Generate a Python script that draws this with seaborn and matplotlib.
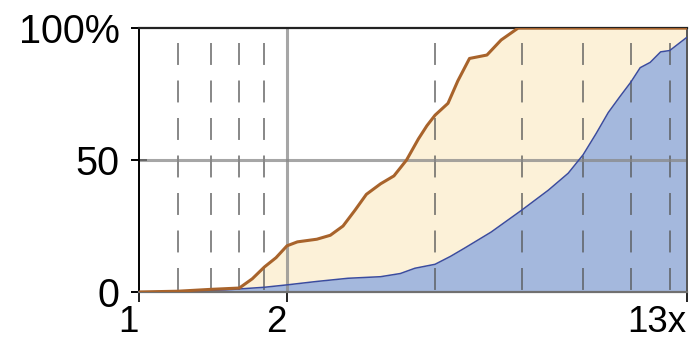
import matplotlib
matplotlib.use("Agg")
import matplotlib.pyplot as plt
import seaborn as sns
import pandas as pd

# Cumulative share (%) of runs at or below each speed-up factor
fast_x = [1.0, 1.2, 1.4, 1.6, 1.7, 1.8, 1.9, 2.0, 2.1, 2.3, 2.45, 2.6, 2.75,
          2.9, 3.1, 3.3, 3.5, 3.7, 3.85, 4.0, 4.25, 4.45, 4.7, 5.1, 5.45, 5.9, 13.0]
fast_y = [0, 0.3, 1.0, 1.5, 5, 9.5, 13, 17.5, 19, 20, 21.5, 25, 31,
          37, 41, 44, 50, 58, 63, 67, 71.5, 80, 88.5, 89.8, 95.5, 100, 100]

slow_x = [1.0, 1.2, 1.5, 1.8, 2.0, 2.3, 2.66, 3.1, 3.4, 3.64, 4.0, 4.3, 4.6,
          5.2, 6.0, 6.8, 7.46, 8.0, 8.5, 9.0, 9.5, 10.0, 10.45, 10.95, 11.5, 12.0, 13.0]
slow_y = [0, 0.3, 0.8, 1.8, 2.7, 4, 5.2, 5.8, 7, 9, 10.5, 13.5, 16.7,
          22.7, 31, 38.6, 45, 52, 60, 68, 74, 79.5, 85, 87, 91, 91.5, 96.5]

x_ticks = [1, 2, 13]
x_tick_labels = ["1", "2", "13x"]
y_ticks = [0, 50, 100]
y_tick_labels = ["0", "50", "100%"]
dashed_x = [1.2, 1.4, 1.6, 1.8, 4, 6, 8, 10, 12]

sns.set_style("white")
plt.rcParams["font.family"] = ["Liberation Sans", "DejaVu Sans"]
plt.rcParams["lines.scale_dashes"] = False

fast = pd.DataFrame({"x": fast_x, "y": fast_y})
slow = pd.DataFrame({"x": slow_x, "y": slow_y})

fig = plt.figure(figsize=(6.98, 3.47), dpi=100)
ax = fig.add_axes([0.199, 0.1585, 0.785, 0.7605])

ax.fill_between(fast["x"], fast["y"], 0, color="#FCF1D8", lw=0, zorder=1)
ax.fill_between(slow["x"], slow["y"], 0, color="#A4B8DD", lw=0, zorder=1.2)

# reference grid drawn over the filled areas
for xv in dashed_x:
    ax.plot([xv, xv], [94.3, 0], color="#555555", alpha=0.7, lw=1.4,
            dashes=(15.8, 11.2), zorder=2.2)
ax.axvline(2, color="#888888", alpha=0.75, lw=2.2, zorder=2.2)
ax.axhline(50, color="#888888", alpha=0.75, lw=2.2, zorder=2.2)

sns.lineplot(data=slow, x="x", y="y", ax=ax, color="#3A4CA0", lw=1.1, zorder=3)
sns.lineplot(data=fast, x="x", y="y", ax=ax, color="#A8632B", lw=2.2, zorder=3.2)

ax.set_xscale("log")
ax.set_xlim(1, 13)
ax.set_ylim(0, 100)
ax.set_xlabel("")
ax.set_ylabel("")
ax.minorticks_off()
ax.set_xticks(x_ticks)
ax.set_xticklabels(x_tick_labels)
for lab in ax.get_xticklabels():
    lab.set_horizontalalignment("right")
ax.set_yticks(y_ticks)
ax.set_yticklabels(y_tick_labels)

ax.tick_params(axis="y", direction="inout", length=12, width=1.4, color="black",
               labelsize=28.5, labelcolor="black", pad=8, left=True)
ax.tick_params(axis="x", direction="out", length=7, width=1.4, color="#222222",
               labelsize=26.5, labelcolor="black", pad=2.5, bottom=True)

for side, col, lw in [("left", "black", 1.4), ("top", "#222222", 1.6),
                      ("right", "#555555", 1.4), ("bottom", "#707070", 1.6)]:
    ax.spines[side].set_visible(True)
    ax.spines[side].set_color(col)
    ax.spines[side].set_linewidth(lw)

fig.savefig("out.png", dpi=100)
